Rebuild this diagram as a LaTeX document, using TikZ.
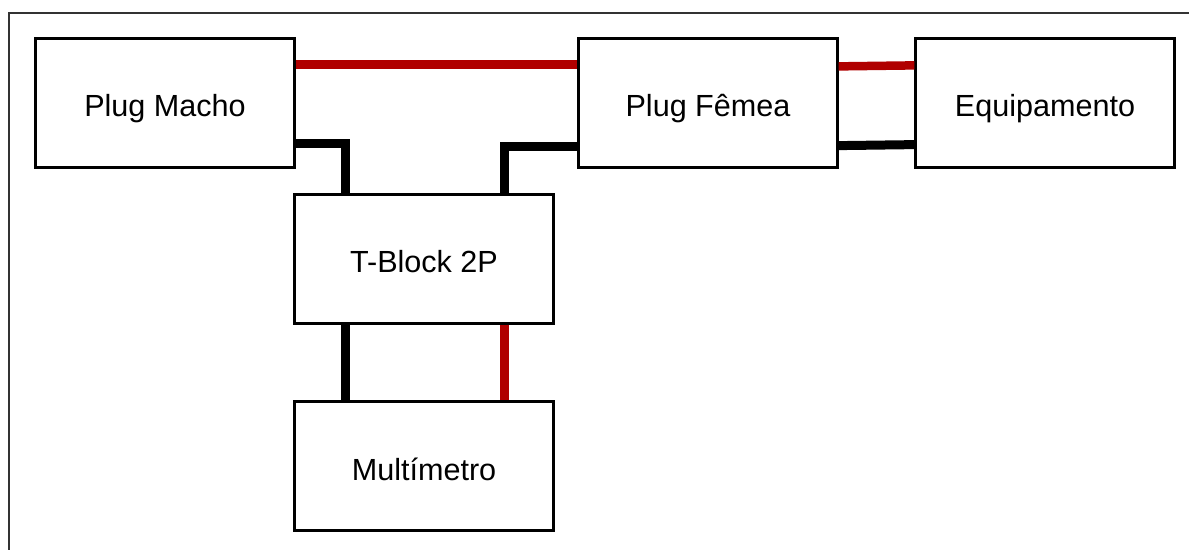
\documentclass[tikz,border=0pt]{standalone}
\usepackage{fontspec}
\setmainfont{Liberation Sans}
\usepackage{xcolor}
\definecolor{wirered}{HTML}{B00000}
\definecolor{framegray}{HTML}{333333}

\begin{document}
\begin{tikzpicture}[x=0.02cm, y=-0.02cm,
    block/.style={draw, line width=0.045cm, fill=white, minimum width=5.18cm, minimum height=2.58cm, inner sep=0pt, text height=0.56cm, text depth=0pt, font=\fontsize{17.4}{20}\selectfont},
    redwire/.style={draw=wirered, line width=0.17cm},
    blackwire/.style={draw=black, line width=0.18cm}]
    \useasboundingbox (0,0) rectangle (1189,550);
    \draw[framegray, line width=0.04cm] (9,560) -- (9,13) -- (1200,13);

    \node[block] (macho) at (165,103) {Plug Macho};
    \node[block] (femea) at (708,103) {Plug Fêmea};
    \node[block] (equip) at (1045,103) {Equipamento};
    \node[block] (tblock) at (424,259) {T-Block 2P};
    \node[block] (multi) at (424,466) {Multímetro};

    \draw[redwire] ([yshift=-0.54cm]macho.north east) -- ([yshift=-0.54cm]femea.north west);
    \draw[blackwire] ([yshift=0.5cm]macho.south east) -| ([xshift=1.04cm]tblock.north west);
    \draw[blackwire] ([xshift=-1cm]tblock.north east) |- ([yshift=0.44cm]femea.south west);
    \draw[redwire] ([yshift=-0.58cm]femea.north east) -- ([yshift=-0.56cm]equip.north west);
    \draw[blackwire] ([yshift=0.46cm]femea.south east) -- ([yshift=0.48cm]equip.south west);
    \draw[blackwire] ([xshift=1.04cm]tblock.south west) -- ([xshift=1.04cm]multi.north west);
    \draw[redwire] ([xshift=-1cm]tblock.south east) -- ([xshift=-1cm]multi.north east);
  \end{tikzpicture}
\end{document}
